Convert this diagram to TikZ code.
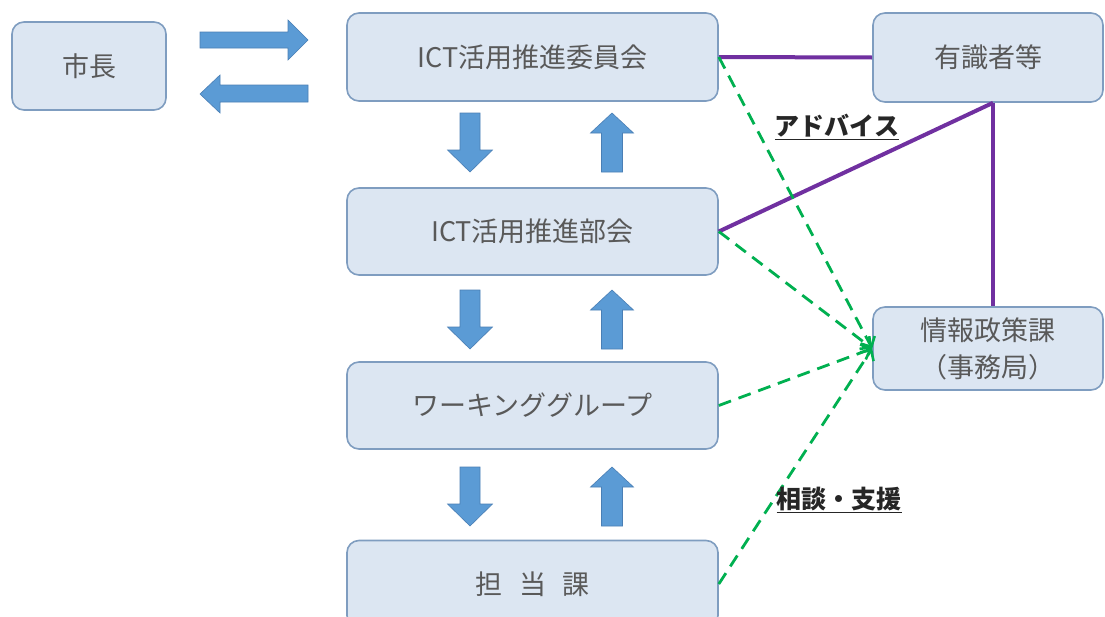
\documentclass[tikz,border=0pt]{standalone}
\usepackage{fontspec}
\setmainfont{Noto Sans CJK JP}
\usetikzlibrary{arrows.meta,calc}
\definecolor{boxfill}{HTML}{DCE6F2}
\definecolor{boxline}{HTML}{7F9DC0}
\definecolor{boxtext}{HTML}{595959}
\definecolor{arrfill}{HTML}{5B9BD5}
\definecolor{arrline}{HTML}{4A7FB5}
\definecolor{purp}{HTML}{7030A0}
\definecolor{grn}{HTML}{00B050}
\begin{document}
\begin{tikzpicture}[x=1pt,y=-1pt,
  box/.style={draw=boxline,line width=1.6pt,fill=boxfill,rounded corners=12pt,
    text=boxtext,font=\fontsize{27}{37}\selectfont,align=center,inner sep=0pt},
  bigarrow/.style={fill=arrfill,draw=arrline,line width=0.6pt},
  purpline/.style={draw=purp,line width=4pt},
  grnline/.style={draw=grn,line width=2.8pt,dash pattern=on 13pt off 8pt,
    -{Straight Barb[length=8pt,width=16pt,line width=2.6pt]}},
  lbl/.style={font=\bfseries\fontsize{25}{28}\selectfont,text=black!85},
  downarr/.pic={\path[bigarrow] (-10,0) -- (10,0) -- (10,37) -- (22.5,37) -- (0,59) -- (-22.5,37) -- (-10,37) -- cycle;},
  uparr/.pic={\path[bigarrow] (0,0) -- (21.5,20) -- (10.5,20) -- (10.5,59) -- (-10.5,59) -- (-10.5,20) -- (-21.5,20) -- cycle;}
]
\useasboundingbox[fill=white] (0,0) rectangle (1105,616);

% nodes
\node[box,minimum width=154pt,minimum height=88pt] (mayor) at (89,66) {市長};
\node[box,minimum width=371pt,minimum height=88pt] (iinkai) at (532.5,57) {ICT活用推進委員会};
\node[box,minimum width=230pt,minimum height=89pt] (expert) at (988,57.5) {有識者等};
\node[box,minimum width=371pt,minimum height=87pt] (bukai) at (532.5,231.5) {ICT活用推進部会};
\node[box,minimum width=371pt,minimum height=87pt] (wg) at (532.5,405.5) {ワーキンググループ};
\node[box,minimum width=371pt,minimum height=87pt] (tanto) at (532.5,584) {担\hspace{0.6em}当\hspace{0.6em}課};
\node[box,minimum width=230pt,minimum height=83pt] (jimu) at (988,348.5) {情報政策課\\（事務局）};

% horizontal block arrows
\path[bigarrow] (200,32) -- (288,32) -- (288,20) -- (308,40) -- (288,60) -- (288,48) -- (200,48) -- cycle;
\path[bigarrow] (308,85) -- (220,85) -- (220,75) -- (200,94) -- (220,113) -- (220,102) -- (308,102) -- cycle;

% vertical block arrows
\pic at (470,113) {downarr};
\pic at (612,113) {uparr};
\pic at (470,290) {downarr};
\pic at (612,290) {uparr};
\pic at (470,467) {downarr};
\pic at (612,467) {uparr};

% purple connectors
\coordinate (exb) at ([xshift=5pt]expert.south);
\draw[purpline] (iinkai.east) -- (expert.west);
\draw[purpline] (bukai.east) -- (exb);
\draw[purpline] (exb) -- (exb |- jimu.north);

% green dashed connectors
\draw[grnline] (iinkai.east) -- (jimu.west);
\draw[grnline] (bukai.east) -- (jimu.west);
\draw[grnline] (wg.east) -- (jimu.west);
\draw[grnline] (tanto.east) -- (jimu.west);

% labels
\node[lbl] (advice) at (837,127) {\underline{アドバイス}};
\node[lbl] (support) at (839,500) {\underline{相談・支援}};
\end{tikzpicture}
\end{document}
